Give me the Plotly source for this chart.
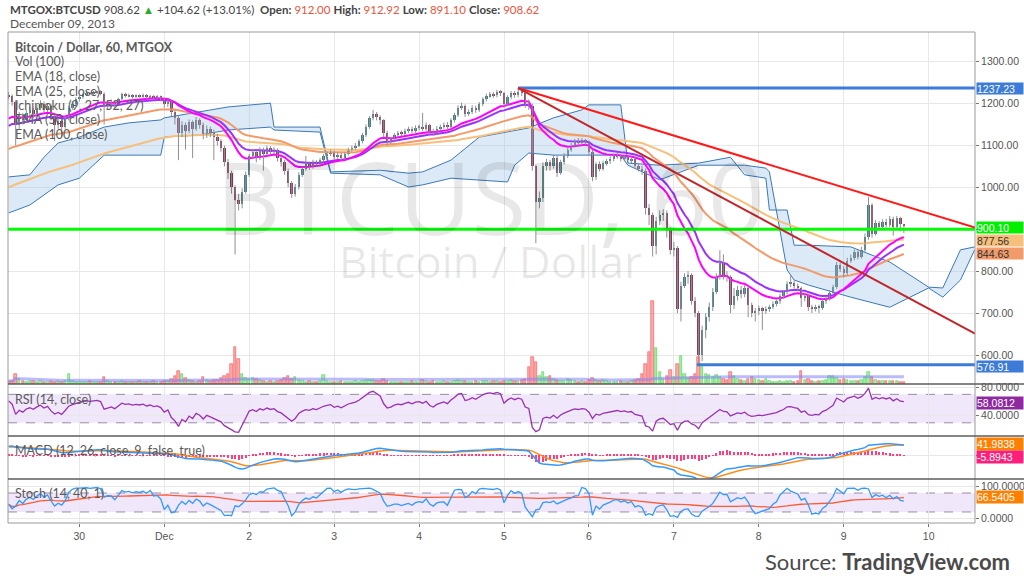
import pandas as pd
import plotly.graph_objects as go

# ---------------- data ----------------
start_time = "2013-11-29 04:00"
day_zero = "2013-12-01 00:00"
first_open = 1220.0

closes = [
    # Nov 29 04:00-23:00
    1218, 1205, 1150, 1172, 1160, 1178, 1185, 1176, 1190, 1200, 1185, 1195, 1170, 1150, 1158, 1145, 1165, 1190, 1200, 1210,
    # Nov 30
    1215, 1222, 1225, 1223, 1226, 1228, 1224, 1195, 1200, 1205, 1198, 1210, 1222, 1218, 1220, 1216, 1219, 1217, 1220, 1215, 1218, 1214, 1216, 1212,
    # Dec 1
    1200, 1205, 1180, 1165, 1130, 1150, 1135, 1155, 1140, 1160, 1150, 1125, 1140, 1130, 1120, 1110, 1095, 1060, 1035, 1000, 970, 960, 990, 1030,
    # Dec 2
    1075, 1085, 1070, 1090, 1080, 1095, 1085, 1090, 1070, 1060, 1040, 1010, 985, 1000, 1030, 1045, 1055, 1050, 1060, 1055, 1065, 1075, 1080, 1085,
    # Dec 3
    1072, 1078, 1070, 1080, 1090, 1095, 1100, 1110, 1125, 1145, 1165, 1175, 1168, 1160, 1130, 1110, 1115, 1125, 1130, 1128, 1135, 1140, 1135, 1142,
    # Dec 4
    1145, 1140, 1148, 1135, 1130, 1140, 1145, 1150, 1145, 1160, 1172, 1190, 1195, 1175, 1180, 1190, 1185, 1198, 1210, 1218, 1222, 1220, 1228, 1225,
    # Dec 5
    1200, 1215, 1225, 1220, 1228, 1225, 1200, 1195, 1050, 965, 975, 1050, 1060, 1050, 1070, 1035, 1060, 1075, 1090, 1100, 1110, 1105, 1112, 1108,
    # Dec 6
    1085, 1025, 1055, 1045, 1058, 1062, 1068, 1074, 1076, 1068, 1072, 1065, 1068, 1050, 1045, 1040, 950, 935, 860, 920, 935, 940, 900, 850,
    # Dec 7
    855, 710, 765, 785, 790, 730, 700, 600, 660, 690, 715, 750, 785, 820, 790, 785, 720, 740, 755, 745, 760, 720, 700, 705,
    # Dec 8
    712, 705, 710, 715, 722, 728, 740, 750, 770, 772, 765, 760, 735, 742, 715, 710, 715, 712, 728, 735, 748, 762, 815, 805,
    # Dec 9 00:00-17:00
    795, 825, 832, 845, 835, 850, 882, 958, 890, 915, 905, 918, 910, 925, 905, 928, 912, 908.62,
]

highs = [
    1228, 1222, 1208, 1180, 1178, 1185, 1192, 1190, 1198, 1208, 1205, 1200, 1198, 1175, 1165, 1162, 1170, 1195, 1206, 1215,
    1220, 1226, 1229, 1228, 1230, 1231, 1232, 1227, 1206, 1210, 1208, 1214, 1226, 1226, 1224, 1223, 1222, 1222, 1224, 1223, 1221, 1221, 1220, 1219,
    1215, 1210, 1208, 1185, 1170, 1158, 1155, 1162, 1160, 1168, 1165, 1155, 1148, 1145, 1138, 1128, 1115, 1100, 1068, 1040, 1005, 985, 998, 1038,
    1080, 1092, 1090, 1096, 1095, 1100, 1099, 1096, 1093, 1075, 1066, 1045, 1015, 1008, 1036, 1050, 1075, 1062, 1066, 1065, 1070, 1080, 1086, 1090,
    1088, 1084, 1082, 1085, 1095, 1100, 1106, 1115, 1130, 1150, 1170, 1185, 1180, 1172, 1163, 1135, 1120, 1130, 1135, 1136, 1140, 1145, 1145, 1148,
    1150, 1178, 1155, 1152, 1140, 1146, 1150, 1155, 1156, 1165, 1178, 1196, 1202, 1198, 1186, 1196, 1195, 1204, 1215, 1224, 1228, 1228, 1233, 1232,
    1228, 1220, 1230, 1230, 1237.23, 1234, 1228, 1210, 1200, 1055, 990, 1060, 1068, 1066, 1078, 1075, 1066, 1082, 1096, 1106, 1116, 1118, 1118, 1116,
    1112, 1090, 1060, 1062, 1064, 1068, 1074, 1080, 1082, 1080, 1078, 1076, 1074, 1072, 1056, 1052, 1045, 960, 940, 930, 945, 948, 945, 905,
    870, 860, 775, 795, 800, 795, 738, 705, 670, 700, 725, 760, 795, 850, 840, 800, 790, 760, 765, 765, 768, 765, 725, 712,
    718, 715, 716, 720, 728, 733, 746, 755, 776, 790, 778, 770, 763, 748, 746, 720, 720, 720, 733, 740, 754, 768, 822, 820,
    812, 832, 840, 852, 850, 858, 890, 977, 962, 922, 920, 924, 925, 932, 930, 932, 930, 912.92,
]

lows = [
    1210, 1195, 1100, 1140, 1150, 1155, 1170, 1165, 1172, 1185, 1178, 1180, 1160, 1110, 1140, 1120, 1140, 1160, 1185, 1195,
    1205, 1212, 1220, 1220, 1221, 1223, 1220, 1150, 1185, 1195, 1190, 1195, 1208, 1214, 1215, 1212, 1213, 1214, 1214, 1211, 1212, 1210, 1210, 1205,
    1190, 1192, 1170, 1150, 1065, 1120, 1090, 1130, 1070, 1135, 1140, 1115, 1118, 1120, 1065, 1100, 1085, 1050, 1020, 985, 840, 945, 950, 985,
    1025, 1068, 1060, 1065, 1040, 1075, 1078, 1080, 1062, 1050, 1030, 1000, 975, 978, 995, 1025, 1040, 1042, 1045, 1048, 1050, 1060, 1070, 1075,
    1066, 1068, 1064, 1066, 1076, 1085, 1090, 1096, 1105, 1120, 1140, 1160, 1160, 1150, 1120, 1100, 1104, 1110, 1120, 1122, 1124, 1130, 1128, 1130,
    1136, 1134, 1135, 1128, 1124, 1126, 1135, 1140, 1138, 1140, 1155, 1168, 1185, 1168, 1170, 1175, 1178, 1180, 1194, 1205, 1214, 1214, 1215, 1218,
    1190, 1195, 1210, 1214, 1215, 1218, 1190, 1185, 1040, 867, 950, 965, 1040, 1040, 1045, 1025, 1030, 1055, 1070, 1085, 1095, 1098, 1100, 1100,
    1078, 1015, 1018, 1038, 1040, 1052, 1056, 1062, 1068, 1062, 1062, 1058, 1058, 1044, 1038, 1030, 935, 910, 835, 840, 910, 920, 880, 840,
    835, 700, 680, 760, 770, 720, 690, 576.91, 585, 640, 680, 705, 745, 780, 780, 775, 700, 710, 730, 735, 738, 690, 690, 680,
    695, 660, 698, 703, 710, 716, 722, 735, 745, 762, 758, 752, 715, 728, 705, 700, 704, 700, 708, 722, 730, 742, 758, 798,
    785, 790, 820, 826, 828, 830, 846, 875, 880, 885, 898, 900, 904, 905, 885, 900, 895, 891.10,
]

volumes = [
    600, 700, 2000, 1000, 600, 500, 600, 700, 500, 600, 500, 400, 600, 500, 700, 500, 600, 2000, 700, 500,
    500, 400, 500, 600, 500, 400, 500, 1400, 600, 500, 400, 500, 600, 500, 400, 500, 400, 600, 500, 400, 500, 600, 400, 500,
    600, 700, 1000, 1600, 2600, 2000, 1200, 800, 600, 500, 600, 1400, 800, 700, 800, 900, 1200, 1600, 2000, 4000, 7400, 5000, 2000, 1200,
    1000, 1200, 1100, 800, 600, 500, 600, 500, 600, 800, 1200, 1600, 1000, 1400, 800, 700, 500, 600, 500, 400, 600, 1800, 700, 500,
    500, 400, 600, 500, 400, 500, 600, 500, 700, 800, 900, 800, 700, 600, 1000, 600, 500, 400, 500, 400, 500, 400, 600, 500,
    500, 800, 600, 500, 600, 400, 500, 600, 400, 500, 700, 800, 600, 700, 500, 400, 600, 500, 700, 600, 500, 600, 700, 500,
    600, 700, 800, 600, 700, 800, 1000, 3400, 5400, 4400, 1600, 2400, 1400, 1600, 1000, 800, 700, 600, 1000, 800, 600, 500, 600, 500,
    800, 1200, 900, 600, 800, 600, 500, 400, 500, 600, 400, 500, 600, 800, 1000, 2000, 4000, 6400, 16600, 7200, 2400, 1000, 1600, 2800,
    1400, 4000, 5600, 2000, 1200, 1400, 2000, 5400, 3400, 2000, 1800, 1400, 1800, 1400, 1000, 800, 2400, 1600, 1000, 800, 600, 1000, 1400, 1000,
    800, 600, 1000, 600, 500, 400, 600, 500, 700, 600, 500, 600, 2600, 800, 1000, 600, 500, 600, 700, 800, 1600, 1600, 1200, 900,
    1000, 800, 600, 700, 600, 900, 1400, 2400, 1400, 800, 700, 600, 700, 600, 600, 600, 500, 500,
]

# indicator settings and the values they start from at the left edge
ema_periods = [18, 25, 50, 100]
ema_seeds = [1158, 1141, 1086, 996]
macd_periods = [12, 26, 9]
macd_seeds = [1150, 1120, 30]
rsi_period = 14
rsi_seeds = [8.0, 5.0]
stoch_periods = [14, 40]
vol_ma_period = 100

# Ichimoku cloud (spans, already displaced); hours from Dec 1 00:00
cloud_hours = [-44, -38, -34, -30, -24, -17, -10, -1, 0, 10, 18, 30, 31, 44, 47, 61, 69, 73, 81, 89,
               97, 99, 103, 110, 118, 120, 129, 131, 140, 151, 160, 164, 170, 171, 176, 178, 182, 194, 205, 216,
               220, 225, 229]
span_a = [1025, 1030, 1072, 1106, 1120, 1144, 1154, 1161, 1166, 1180, 1192, 1201, 1144, 1144, 1037, 1041, 1034, 1037, 1065, 1120,
          1132, 1135, 1142, 1166, 1185, 1197, 1197, 1058, 1053, 1058, 1072, 1030, 1022, 946, 946, 862, 862, 858, 822, 762,
          760, 851, 858]
span_b = [939, 958, 982, 1006, 1022, 1077, 1077, 1077, 1120, 1125, 1137, 1144, 1137, 1132, 1034, 1030, 1001, 1006, 1022, 1018,
          1013, 1053, 1082, 1077, 1077, 1077, 1077, 1053, 1018, 1053, 1053, 1053, 1046, 1037, 803, 779, 767, 738, 714, 760,
          738, 779, 851]

# drawn levels and trend lines (hours from Dec 1 00:00, prices)
level_prices = [1237.23, 900.10, 576.91]
level_start_hours = [100, -44.2, 150.5]
trend_hours = [100, 229.1]
trend_upper = [1237.23, 904]
trend_lower = [1237.23, 651]

axis_hours = [-44.17, 229.1]
day_ticks = ["2013-11-30", "2013-12-01", "2013-12-02", "2013-12-03", "2013-12-04", "2013-12-05",
             "2013-12-06", "2013-12-07", "2013-12-08", "2013-12-09", "2013-12-10"]
day_labels = ["30", "Dec", "2", "3", "4", "5", "6", "7", "8", "9", "10"]
price_ticks = [600, 700, 800, 900, 1000, 1100, 1200, 1300]
# the 900.00 label sits under the 900.10 tag in the reference, so it is left blank
price_tick_labels = ["600.00", "700.00", "800.00", "", "1000.00", "1100.00", "1200.00", "1300.00"]
price_range = [530.8, 1370.9]
rsi_range = [11.4, 84.6]
macd_range = [-90, 72]
stoch_range = [-14.9, 124.4]
vol_range = [0, 70400]

price_tags = ["1237.23", "900.10", "877.56", "844.63", "576.91"]
price_tag_values = [1237.23, 900.10, 877.56, 844.63, 576.91]
rsi_tag = 58.0812
macd_tags = [41.9838, -5.8943]
stoch_tag = 66.5405

# ---------------- calculations ----------------
base = pd.Timestamp(day_zero)


def at_hours(h):
    return base + pd.to_timedelta(h, unit="h")


times = pd.date_range(start_time, periods=len(closes), freq="h")
opens = [first_open] + closes[:-1]


def ema(vals, n, seed):
    a = 2.0 / (n + 1)
    out, p = [], seed
    for v in vals:
        p += a * (v - p)
        out.append(p)
    return out


emas = [ema(closes, n, s) for n, s in zip(ema_periods, ema_seeds)]

e_fast = ema(closes, macd_periods[0], macd_seeds[0])
e_slow = ema(closes, macd_periods[1], macd_seeds[1])
macd = [a - b for a, b in zip(e_fast, e_slow)]
signal = ema(macd, macd_periods[2], macd_seeds[2])
hist = [m - s for m, s in zip(macd, signal)]

rsi = []
ag, al = rsi_seeds
prev = first_open
for c in closes:
    d = c - prev
    prev = c
    ag = (ag * (rsi_period - 1) + max(d, 0)) / rsi_period
    al = (al * (rsi_period - 1) + max(-d, 0)) / rsi_period
    rsi.append(100 - 100 / (1 + ag / al) if al > 0 else 100)

sc = pd.Series(closes, dtype=float)
hh = pd.Series(highs, dtype=float).rolling(stoch_periods[0], min_periods=1).max()
ll = pd.Series(lows, dtype=float).rolling(stoch_periods[0], min_periods=1).min()
stoch_k = 100 * (sc - ll) / (hh - ll)
stoch_d = stoch_k.rolling(stoch_periods[1], min_periods=1).mean()

vol_ma = pd.Series(volumes, dtype=float).rolling(vol_ma_period, min_periods=1).mean()

up = [c >= o for o, c in zip(opens, closes)]

# ---------------- styles ----------------
UP_BODY, DN_BODY, WICK = "#3f7f8a", "#8b3a5e", "#8f8f8f"
EMA_COLORS = ["#ff00ff", "#9b30ff", "#f39a6a", "#f6c07c"]
CLOUD_LINE, CLOUD_FILL = "#3b78b6", "rgba(150,190,232,0.33)"
GRID = "#e8e8e8"
TXT = "#555555"
FONT = "Lato"
AXFONT = "Liberation Sans"
BAR_W = 3600 * 1000 * 0.68

PLOT_L, PLOT_R, PLOT_T, PLOT_B = 8, 975, 32, 523
W = PLOT_R - PLOT_L
H = PLOT_B - PLOT_T


def px(x):
    return (x - PLOT_L) / W


def py(y):
    return (PLOT_B - y) / H


d_main = [py(384), 1.0]
d_rsi = [py(436), py(384)]
d_macd = [py(479), py(436)]
d_stoch = [0.0, py(479)]

fig = go.Figure()

# volume (base axis y) and its average
fig.add_trace(go.Bar(
    x=times, y=volumes, yaxis="y", width=BAR_W,
    marker=dict(color=["rgba(120,235,120,0.65)" if u else "rgba(255,125,125,0.65)" for u in up],
                line=dict(color=["rgba(60,205,60,0.9)" if u else "rgba(240,70,70,0.9)" for u in up], width=0.6)),
    hoverinfo="skip"))
fig.add_trace(go.Scatter(x=times, y=vol_ma, yaxis="y", mode="lines",
                         line=dict(color="rgba(130,130,255,0.55)", width=3), hoverinfo="skip"))

# Ichimoku cloud
cloud_t = [at_hours(h) for h in cloud_hours]
fig.add_trace(go.Scatter(x=cloud_t, y=span_b, yaxis="y2", mode="lines",
                         line=dict(color=CLOUD_LINE, width=1), hoverinfo="skip"))
fig.add_trace(go.Scatter(x=cloud_t, y=span_a, yaxis="y2", mode="lines", fill="tonexty",
                         fillcolor=CLOUD_FILL, line=dict(color=CLOUD_LINE, width=1), hoverinfo="skip"))

# EMAs (slow first so fast ones are on top)
for vals, col in list(zip(emas, EMA_COLORS))[::-1]:
    fig.add_trace(go.Scatter(x=times, y=vals, yaxis="y2", mode="lines",
                             line=dict(color=col, width=2), hoverinfo="skip"))

# candles: wicks then bodies
wx, wy = [], []
for t, lo, hi in zip(times, lows, highs):
    wx += [t, t, None]
    wy += [lo, hi, None]
fig.add_trace(go.Scatter(x=wx, y=wy, yaxis="y2", mode="lines",
                         line=dict(color=WICK, width=1), hoverinfo="skip"))
fig.add_trace(go.Bar(
    x=times, y=[c - o for o, c in zip(opens, closes)], base=opens, yaxis="y2", width=BAR_W,
    marker=dict(color=[UP_BODY if u else DN_BODY for u in up], line=dict(width=0)),
    hoverinfo="skip"))

# levels and trend lines
for lvl, h0, col in zip(level_prices, level_start_hours, ["#3d7bd8", "#00ff00", "#3d7bd8"]):
    fig.add_trace(go.Scatter(x=[at_hours(h0), at_hours(axis_hours[1])], y=[lvl, lvl], yaxis="y2",
                             mode="lines", line=dict(color=col, width=3), hoverinfo="skip"))
trend_t = [at_hours(h) for h in trend_hours]
fig.add_trace(go.Scatter(x=trend_t, y=trend_upper, yaxis="y2", mode="lines",
                         line=dict(color="#ff1a1a", width=2), hoverinfo="skip"))
fig.add_trace(go.Scatter(x=trend_t, y=trend_lower, yaxis="y2", mode="lines",
                         line=dict(color="#c0262a", width=2), hoverinfo="skip"))

# RSI
fig.add_trace(go.Scatter(x=times, y=rsi, yaxis="y3", mode="lines",
                         line=dict(color="#9932b0", width=1.3), hoverinfo="skip"))
# MACD
fig.add_trace(go.Bar(x=times, y=hist, yaxis="y4", width=3600 * 1000 * 0.3,
                     marker=dict(color="#ff3d7f", line=dict(width=0)), hoverinfo="skip"))
fig.add_trace(go.Scatter(x=times, y=signal, yaxis="y4", mode="lines",
                         line=dict(color="#ff8c1a", width=1.5), hoverinfo="skip"))
fig.add_trace(go.Scatter(x=times, y=macd, yaxis="y4", mode="lines",
                         line=dict(color="#3399ff", width=1.5), hoverinfo="skip"))
# Stoch
fig.add_trace(go.Scatter(x=times, y=stoch_d, yaxis="y5", mode="lines",
                         line=dict(color="#ff5a36", width=1.3), hoverinfo="skip"))
fig.add_trace(go.Scatter(x=times, y=stoch_k, yaxis="y5", mode="lines",
                         line=dict(color="#3399ff", width=1.3), hoverinfo="skip"))

tickfont = dict(family=AXFONT, size=10.5, color=TXT)
yax_common = dict(side="right", anchor="x", ticks="outside", ticklen=3, tickcolor="#777",
                  tickfont=tickfont, showgrid=True, gridcolor=GRID, zeroline=False, showline=False,
                  fixedrange=True, automargin=False)

shapes = []
# bands
for yref, lo, hi in [("y3", 30, 70), ("y5", 20, 80)]:
    shapes.append(dict(type="rect", xref="paper", yref=yref, x0=0, x1=1, y0=lo, y1=hi,
                       fillcolor="rgba(170,120,230,0.18)", line=dict(width=0), layer="below"))
    for v in (lo, hi):
        shapes.append(dict(type="line", xref="paper", yref=yref, x0=0, x1=1, y0=v, y1=v,
                           line=dict(color="#9a8aa8", width=1, dash="dash"), layer="below"))
# frame and pane separators
shapes.append(dict(type="rect", xref="paper", yref="paper", x0=0, x1=1, y0=0, y1=1,
                   line=dict(color="#9a9a9a", width=1)))
for yy in (d_rsi[1], d_macd[1], d_stoch[1]):
    shapes.append(dict(type="line", xref="paper", yref="paper", x0=0, x1=(1024 - PLOT_L) / W,
                       y0=yy, y1=yy, line=dict(color="#5c5c5c", width=1.5)))

ann = []
# header
hdr = ("<b>MTGOX:BTCUSD</b> 908.62 <span style='color:#2ea82e'>▲</span> +104.62 (+13.01%)  "
       "<b>Open:</b> <span style='color:#e8553e'>912.00</span> <b>High:</b> "
       "<span style='color:#e8553e'>912.92</span> <b>Low:</b> <span style='color:#e8553e'>891.10</span> "
       "<b>Close:</b> <span style='color:#e8553e'>908.62</span>")
ann.append(dict(text=hdr, xref="paper", yref="paper", x=px(8), y=py(9), xanchor="left", yanchor="middle",
                showarrow=False, font=dict(family=FONT, size=11.5, color="#444")))
ann.append(dict(text="December 09, 2013", xref="paper", yref="paper", x=px(8), y=py(23), xanchor="left",
                yanchor="middle", showarrow=False, font=dict(family=FONT, size=12, color=TXT)))
# watermark
ann.append(dict(text="BTCUSD, 60", xref="paper", yref="paper", x=px(490), y=py(196), xanchor="center",
                yanchor="middle", showarrow=False,
                font=dict(family="Open Sans", size=100, color="rgba(0,0,0,0.09)")))
ann.append(dict(text="Bitcoin / Dollar", xref="paper", yref="paper", x=px(490), y=py(261), xanchor="center",
                yanchor="middle", showarrow=False,
                font=dict(family="Open Sans", size=44, color="rgba(0,0,0,0.09)")))
# pane legends
legend_lines = [("<b>Bitcoin / Dollar, 60, MTGOX</b>", 47), ("Vol (100)", 62), ("EMA (18, close)", 76),
                ("EMA (25, close)", 91), ("Ichimoku (9, 27, 52, 27)", 105), ("EMA (50, close)", 120),
                ("EMA (100, close)", 134), ("RSI (14, close)", 399), ("MACD (12, 26, close, 9, false, true)", 450),
                ("Stoch (14, 40, 1)", 493)]
for t, yy in legend_lines:
    ann.append(dict(text=t, xref="paper", yref="paper", x=px(13), y=py(yy), xanchor="left", yanchor="middle",
                    showarrow=False, font=dict(family=FONT, size=12.5, color="#5a5a5a")))
# value tags on the right axis
tag_styles = [("#3d7bd8", "white"), ("#00ee00", "white"), ("#f6c07c", "#333"), ("#f39a6a", "#333"),
              ("#3d7bd8", "white")]
tag_shift = [0, 2, -2, -1, -2]
for txt, v, (bg, fc), sh in zip(price_tags, price_tag_values, tag_styles, tag_shift):
    ann.append(dict(text=txt, xref="paper", yref="y2", x=px(976), y=v, xanchor="left", yanchor="middle",
                    yshift=sh, showarrow=False, bgcolor=bg, borderpad=0, width=46, height=11, align="left",
                    font=dict(family=AXFONT, size=10.5, color=fc)))
ann.append(dict(text=f"{rsi_tag:.4f}", xref="paper", yref="y3", x=px(976), y=rsi_tag, xanchor="left",
                yanchor="middle", showarrow=False, bgcolor="#8e2aa0", borderpad=0, width=46, height=12,
                align="left", font=dict(family=AXFONT, size=10.5, color="white")))
for v, bg in zip(macd_tags, ["#ff8000", "#ff1f7a"]):
    ann.append(dict(text=f"{v:.4f}", xref="paper", yref="y4", x=px(976), y=v, xanchor="left",
                    yanchor="middle", showarrow=False, bgcolor=bg, borderpad=0, width=46, height=12,
                    align="left", font=dict(family=AXFONT, size=10.5, color="white")))
ann.append(dict(text=f"{stoch_tag:.4f}", xref="paper", yref="y5", x=px(976), y=stoch_tag, xanchor="left",
                yanchor="middle", showarrow=False, bgcolor="#ff8000", borderpad=0, width=46, height=12,
                align="left", font=dict(family=AXFONT, size=10.5, color="white")))
# source
ann.append(dict(text="Source: <b>TradingView.com</b>", xref="paper", yref="paper", x=px(1012), y=py(561),
                xanchor="right", yanchor="middle", showarrow=False,
                font=dict(family=FONT, size=22, color="#4a4a4a")))

fig.update_layout(
    width=1024, height=584,
    margin=dict(l=PLOT_L, r=1024 - PLOT_R, t=PLOT_T, b=584 - PLOT_B, autoexpand=False),
    paper_bgcolor="white", plot_bgcolor="white",
    showlegend=False, bargap=0, barmode="overlay",
    xaxis=dict(type="date", range=[at_hours(axis_hours[0]), at_hours(axis_hours[1])], anchor="y5",
               tickvals=day_ticks, ticktext=day_labels, ticks="outside", ticklen=3, tickcolor="#777",
               tickfont=tickfont, showgrid=True, gridcolor=GRID, zeroline=False, showline=False,
               fixedrange=True, automargin=False),
    yaxis=dict(domain=d_main, range=vol_range, visible=False, fixedrange=True, automargin=False),
    yaxis2=dict(overlaying="y", range=price_range, tickvals=price_ticks, ticktext=price_tick_labels,
                **yax_common),
    yaxis3=dict(domain=d_rsi, range=rsi_range, tickvals=[40, 80], tickformat=".4f", **yax_common),
    yaxis4=dict(domain=d_macd, range=macd_range, tickvals=[0], showticklabels=False, **yax_common),
    yaxis5=dict(domain=d_stoch, range=stoch_range, tickvals=[0, 100], tickformat=".4f", **yax_common),
    shapes=shapes, annotations=ann,
)

fig.write_html("out.html")
